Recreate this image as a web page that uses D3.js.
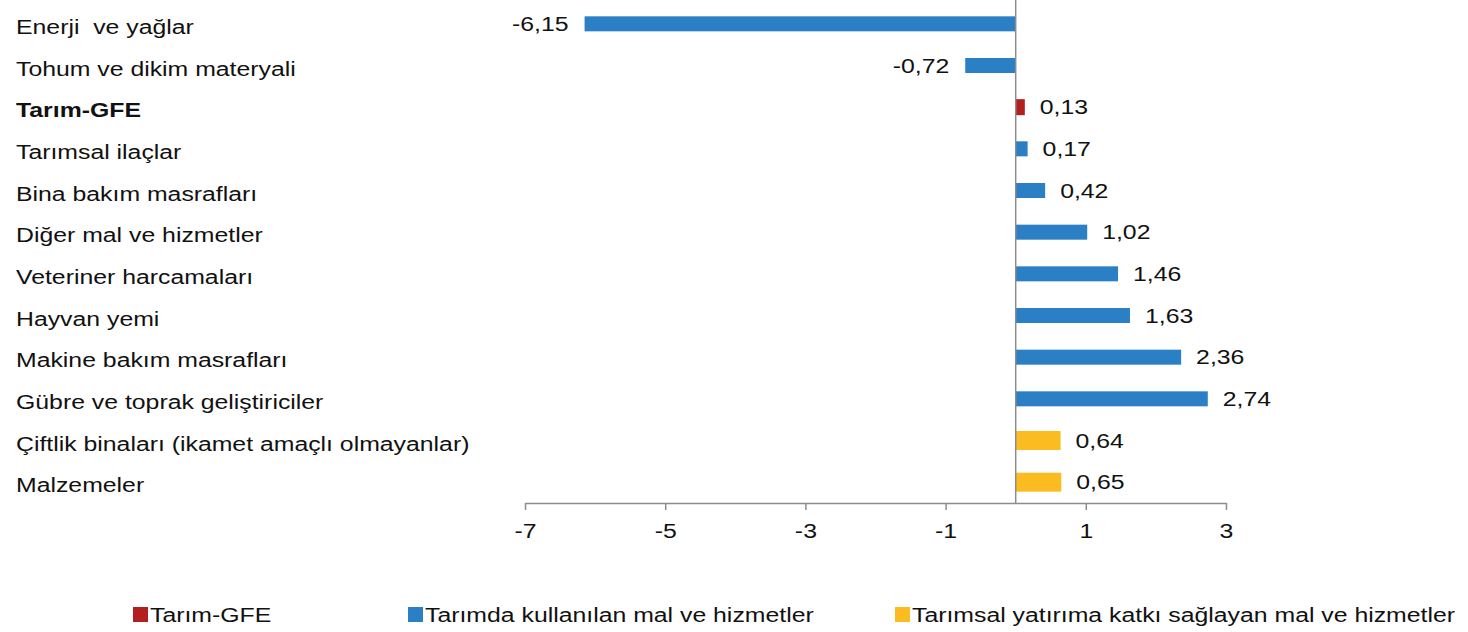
<!DOCTYPE html>
<html>
<head>
<meta charset="utf-8">
<script src="https://cdn.jsdelivr.net/npm/d3@7"></script>
<style>
  html, body { margin: 0; padding: 0; background: #fff; }
  svg text { font-family: "Liberation Sans", Arial, sans-serif; fill: #111; white-space: pre; }
</style>
</head>
<body>
<svg id="chart" width="1468" height="632"></svg>
<script>
// ── Data ────────────────────────────────────────────────────────────────
const categories = [
  'Enerji  ve yağlar',
  'Tohum ve dikim materyali',
  'Tarım-GFE',
  'Tarımsal ilaçlar',
  'Bina bakım masrafları',
  'Diğer mal ve hizmetler',
  'Veteriner harcamaları',
  'Hayvan yemi',
  'Makine bakım masrafları',
  'Gübre ve toprak geliştiriciler',
  'Çiftlik binaları (ikamet amaçlı olmayanlar)',
  'Malzemeler'
];
const values = [-6.15, -0.72, 0.13, 0.17, 0.42, 1.02, 1.46, 1.63, 2.36, 2.74, 0.64, 0.65];
// series each category belongs to (index into seriesNames)
const seriesOf = [1, 1, 0, 1, 1, 1, 1, 1, 1, 1, 2, 2];
const seriesNames = [
  'Tarım-GFE',
  'Tarımda kullanılan mal ve hizmetler',
  'Tarımsal yatırıma katkı sağlayan mal ve hizmetler'
];
const xTicks = [-7, -5, -3, -1, 1, 3];

// ── Setup ───────────────────────────────────────────────────────────────
const colors = ['#b21f1f', '#2b7fc4', '#fbbc22'];
const barH = [16, 15, 19];
const SX = 1.24; // the source image is stretched horizontally
const FS = 20;

const svg = d3.select('#chart');
const x = d3.scaleLinear().domain([-7, 3]).range([525, 1226]);
const y = d3.scaleBand().domain(categories).range([3, 503]);

const rows = categories.map((c, i) => ({ cat: c, v: values[i], s: seriesOf[i] }));

function stretch(sel) {
  sel.each(function() {
    const len = this.getComputedTextLength();
    d3.select(this).attr('textLength', len * SX).attr('lengthAdjust', 'spacingAndGlyphs');
  });
}

// ── Bars ────────────────────────────────────────────────────────────────
svg.append('g').selectAll('rect')
  .data(rows)
  .join('rect')
  .attr('x', d => x(Math.min(0, d.v)))
  .attr('width', d => Math.abs(x(d.v) - x(0)))
  .attr('y', d => y(d.cat) + y.bandwidth() / 2 - barH[d.s] / 2)
  .attr('height', d => barH[d.s])
  .attr('fill', d => colors[d.s]);

// zero line
svg.append('line')
  .attr('x1', x(0)).attr('x2', x(0))
  .attr('y1', 0).attr('y2', 503)
  .attr('stroke', '#8c8c8c').attr('stroke-width', 1.5);

// ── X axis ──────────────────────────────────────────────────────────────
const xAxis = svg.append('g')
  .attr('transform', 'translate(0,503)')
  .call(d3.axisBottom(x).tickValues(xTicks).tickSize(7).tickSizeOuter(0).tickPadding(14)
    .tickFormat(d => String(d)));
xAxis.select('.domain').attr('stroke', '#8c8c8c').attr('stroke-width', 1.5);
xAxis.selectAll('.tick line').attr('stroke', '#8c8c8c').attr('stroke-width', 1.5);
xAxis.selectAll('.tick text')
  .attr('font-size', FS)
  .attr('font-family', '"Liberation Sans", Arial, sans-serif')
  .attr('fill', '#111')
  .call(stretch);

// ── Category labels ─────────────────────────────────────────────────────
svg.append('g').selectAll('text')
  .data(rows)
  .join('text')
  .attr('x', 16)
  .attr('y', d => y(d.cat) + y.bandwidth() / 2 + 3)
  .attr('dy', '0.35em')
  .attr('font-size', FS)
  .attr('font-weight', d => d.s === 0 ? 'bold' : 'normal')
  .text(d => d.cat)
  .call(stretch);

// ── Value labels ────────────────────────────────────────────────────────
svg.append('g').selectAll('text')
  .data(rows)
  .join('text')
  .attr('x', d => d.v < 0 ? x(d.v) - 16 : x(d.v) + 15)
  .attr('y', d => y(d.cat) + y.bandwidth() / 2)
  .attr('dy', '0.35em')
  .attr('text-anchor', d => d.v < 0 ? 'end' : 'start')
  .attr('font-size', FS)
  .text(d => d.v.toFixed(2).replace('.', ','))
  .call(stretch);

// ── Legend ──────────────────────────────────────────────────────────────
const legendX = [133, 408, 895];
const leg = svg.append('g').selectAll('g')
  .data(seriesNames)
  .join('g')
  .attr('transform', (d, i) => `translate(${legendX[i]},607)`);
leg.append('rect')
  .attr('width', 15).attr('height', 15)
  .attr('fill', (d, i) => colors[i]);
leg.append('text')
  .attr('x', 17).attr('y', 8).attr('dy', '0.35em')
  .attr('font-size', FS)
  .text(d => d)
  .call(stretch);
</script>
</body>
</html>
